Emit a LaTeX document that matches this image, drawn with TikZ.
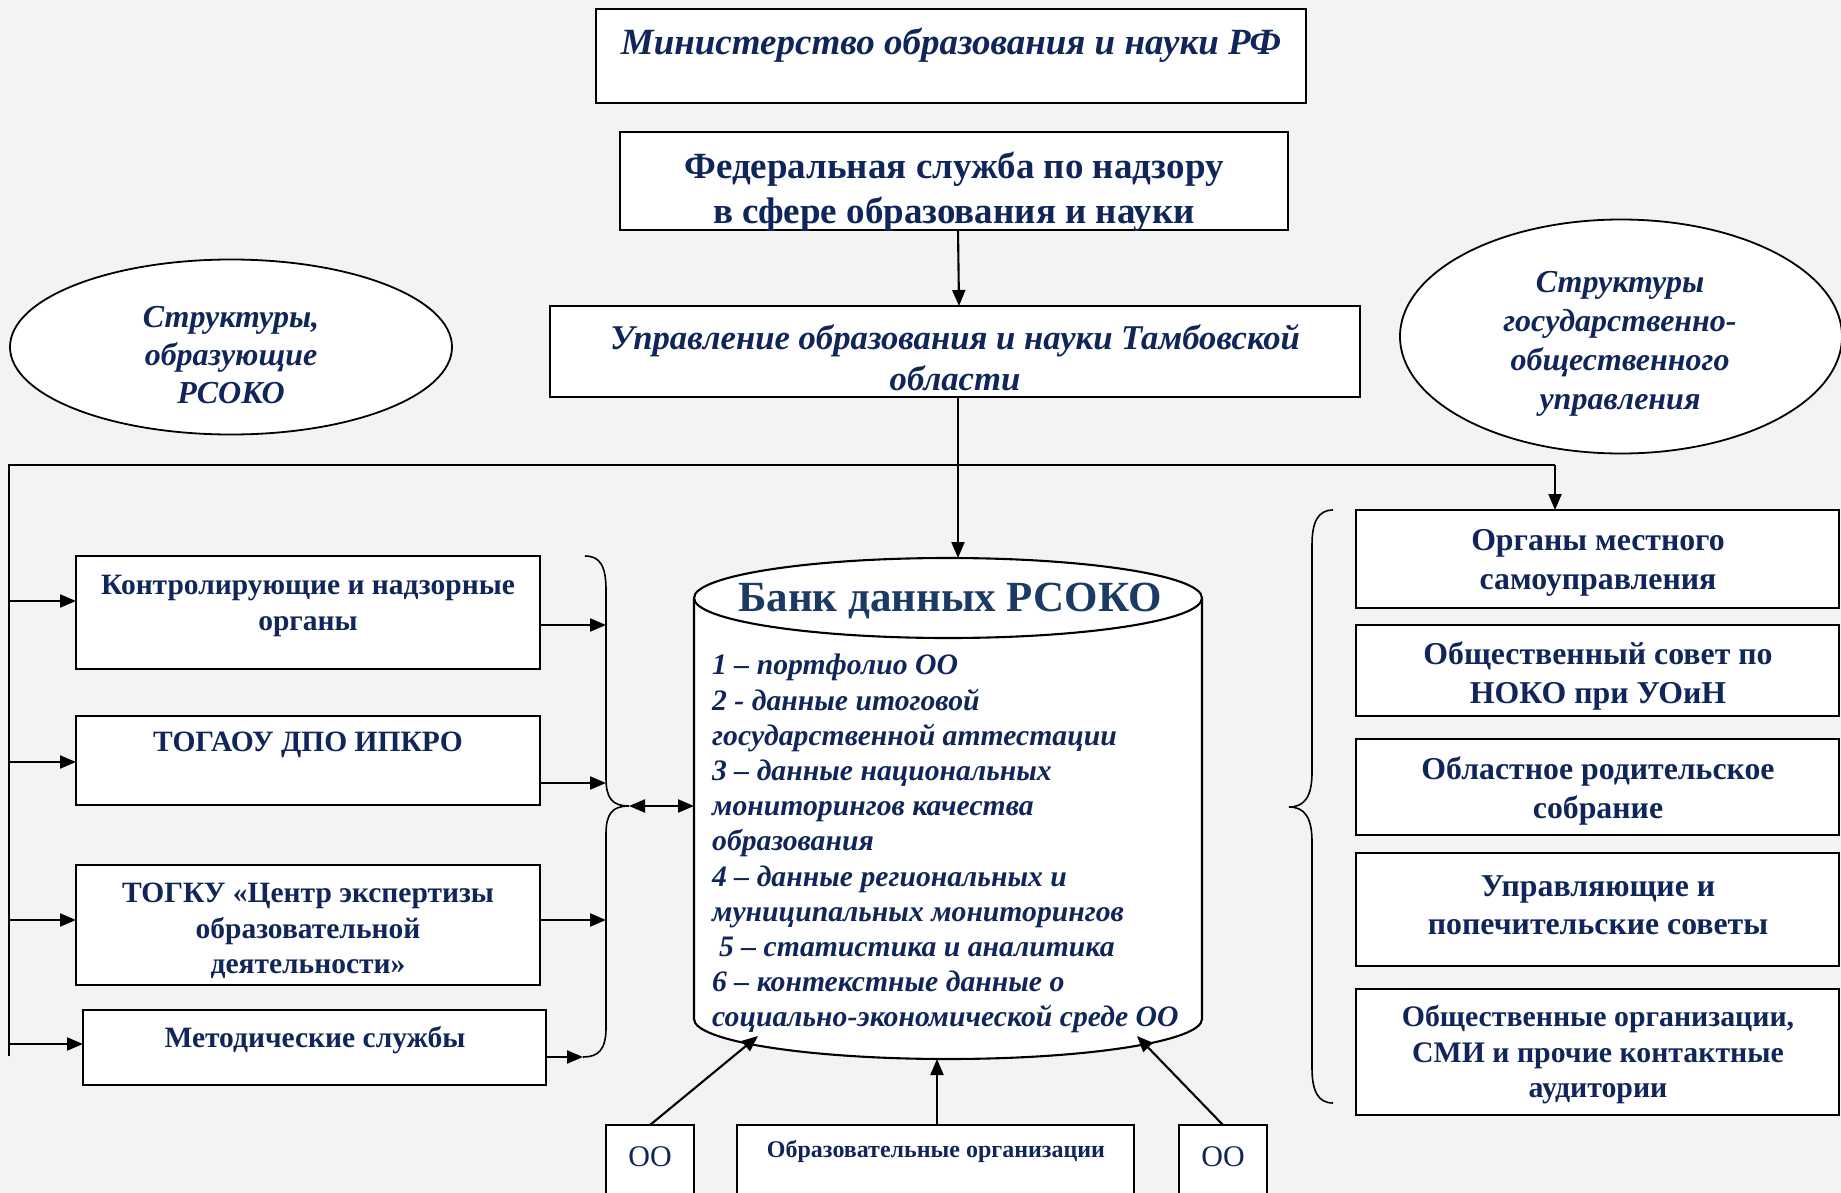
\documentclass[tikz,border=0pt]{standalone}
\usepackage{fontspec}
\setmainfont{Liberation Serif}
\usetikzlibrary{arrows.meta,shapes.geometric,calc}
\definecolor{navy}{HTML}{10265A}
\definecolor{ttl}{HTML}{1B3A64}
\definecolor{bg}{HTML}{F3F3F3}
\begin{document}
\begin{tikzpicture}[x=1pt,y=-1pt,
 box/.style={draw=black, line width=2.1pt, fill=white, inner sep=0pt, outer sep=0pt},
 conn/.style={line width=2.1pt},
 arr/.style={conn, -{Triangle[length=16pt,width=13pt]}},
 darr/.style={conn, {Triangle[length=16pt,width=13pt]}-{Triangle[length=16pt,width=13pt]}},
 tb/.style n args={2}{text=navy, align=center, inner sep=0pt, font={\fontsize{#1}{#2}\selectfont\bfseries}},
 ti/.style n args={2}{text=navy, align=center, inner sep=0pt, font={\fontsize{#1}{#2}\selectfont\bfseries\itshape}},
 oval/.style={draw=black, ellipse, line width=1.8pt, fill=white, inner sep=0pt},
 brace/.style={line width=1.6pt},
]
\fill[bg] (0,0) rectangle (1841,1193);
\useasboundingbox (0,0) rectangle (1841,1193);

% top boxes
\node[box, minimum width=710pt, minimum height=94pt] (min) at (951,56) {};
\node[ti={37}{44}] (mint) at (951,45) {Министерство образования и науки РФ};
\node[box, minimum width=668pt, minimum height=98pt] (fed) at (954,181) {};
\node[tb={37}{44.5}] (fedt) at (954,192) {Федеральная служба по надзору\\в сфере образования и науки};
\node[box, minimum width=810pt, minimum height=91pt] (upr) at (955,351.5) {};
\node[ti={34.7}{41}] (uprt) at (955,358) {Управление образования и науки Тамбовской\\области};

% ellipses
\node[oval, minimum width=442pt, minimum height=175pt] (ell) at (231,347) {};
\node[ti={32}{38}] (ellt) at (231,355) {Структуры,\\образующие\\РСОКО};
\node[oval, minimum width=442pt, minimum height=234pt] (elr) at (1621,336.5) {};
\node[ti={32}{39}] (elrt) at (1620,344) {Структуры\\государственно-\\общественного\\управления};

% left boxes
\node[box, minimum width=464pt, minimum height=113pt] (b1) at (308,612.5) {};
\node[tb={29.5}{36}] (b1t) at (308,606) {Контролирующие и надзорные\\органы};
\node[box, minimum width=464pt, minimum height=89pt] (b2) at (308,760.5) {};
\node[tb={29.5}{36}] (b2t) at (308,745) {ТОГАОУ ДПО ИПКРО};
\node[box, minimum width=464pt, minimum height=120pt] (b3) at (308,925) {};
\node[tb={29.5}{35.5}] (b3t) at (308,931) {ТОГКУ «Центр экспертизы\\образовательной\\деятельности»};
\node[box, minimum width=463pt, minimum height=75pt] (b4) at (314.5,1047.5) {};
\node[tb={29.5}{36}] (b4t) at (315,1040) {Методические службы};

% right boxes
\node[box, minimum width=483pt, minimum height=98pt] (ra) at (1597.5,559) {};
\node[tb={31.8}{38.5}] (rat) at (1598,563) {Органы местного\\самоуправления};
\node[box, minimum width=483pt, minimum height=91pt] (rb) at (1597.5,670.5) {};
\node[tb={31.8}{38.5}] (rbt) at (1598,676) {Общественный совет по\\НОКО при УОиН};
\node[box, minimum width=483pt, minimum height=96pt] (rc) at (1597.5,787) {};
\node[tb={31.8}{38.5}] (rct) at (1598,791) {Областное родительское\\собрание};
\node[box, minimum width=483pt, minimum height=113pt] (rd) at (1597.5,909.5) {};
\node[tb={31.8}{38.5}] (rdt) at (1598,905) {Управляющие и\\попечительские советы};
\node[box, minimum width=483pt, minimum height=126pt] (re) at (1597.5,1052) {};
\node[tb={29.8}{35.5}] (ret) at (1598,1055) {Общественные организации,\\СМИ и прочие контактные\\аудитории};

% bottom boxes
\node[box, minimum width=88pt, minimum height=95pt] (oo1) at (650,1172.5) {};
\node[text=navy, inner sep=0pt, font={\fontsize{30}{34}\selectfont}] (oo1t) at (650,1157) {ОО};
\node[box, minimum width=397pt, minimum height=95pt] (obr) at (935.5,1172.5) {};
\node[tb={24}{28}] (obrt) at (936,1151) {Образовательные организации};
\node[box, minimum width=88pt, minimum height=95pt] (oo2) at (1223,1172.5) {};
\node[text=navy, inner sep=0pt, font={\fontsize{30}{34}\selectfont}] (oo2t) at (1223,1157) {ОО};

% cylinder
\coordinate (bank) at (948,808);
\filldraw[fill=white, draw=black, line width=2.1pt]
  (694,598) -- (694,1019) arc[start angle=180, end angle=360, x radius=254pt, y radius=40pt]
  -- (1202,598) arc[start angle=0, end angle=180, x radius=254pt, y radius=40pt] -- cycle;
\draw[line width=2.1pt] (694,598) arc[start angle=180, end angle=360, x radius=254pt, y radius=40pt];
\node[text=ttl, inner sep=0pt, font={\fontsize{43}{50}\selectfont\bfseries}] (bankt) at (950,601) {Банк данных РСОКО};
\node[text=navy, align=left, anchor=north west, inner sep=0pt, font={\fontsize{29.7}{35.2}\selectfont\bfseries\itshape}] (list) at (712,654)
{1 – портфолио ОО\\
2 - данные итоговой\\
государственной аттестации\\
3 – данные национальных\\
мониторингов качества\\
образования\\
4 – данные региональных и\\
муниципальных мониторингов\\
\hspace*{7pt}5 – статистика и аналитика\\
6 – контекстные данные о\\
социально-экономической среде ОО};

% coordinates
\coordinate (banktop) at (958,558);
\coordinate (jn) at (958,465);
\coordinate (lc) at (9,465);
\coordinate (lb) at (9,1056);
\coordinate (rcn) at (1555,465);
\coordinate (lbx) at (606,806);
\coordinate (lbtip) at (629,806);
\coordinate (lbbot) at (583,1057);
\coordinate (bankleft) at (694,806);
\coordinate (bk1) at (758,1036);
\coordinate (bk2) at (937,1059);
\coordinate (bk3) at (1137,1036);

% connectors
\draw[arr] ([xshift=4pt]fed.south) -- ([xshift=4pt]upr.north);
\draw[arr] ([xshift=3pt]upr.south) -- (banktop);
\draw[conn] (lb) -- (lc) -- (jn) -- (rcn);
\draw[arr] (rcn) -- (rcn |- ra.north);
\draw[arr] ([yshift=11.5pt]b1.west -| lc) -- ([yshift=11.5pt]b1.west);
\draw[arr] ([yshift=-1.5pt]b2.west -| lc) -- ([yshift=-1.5pt]b2.west);
\draw[arr] ([yshift=5pt]b3.west -| lc) -- ([yshift=5pt]b3.west);
\draw[arr] ([yshift=3.5pt]b4.west -| lc) -- ([yshift=3.5pt]b4.west);

\draw[arr] ([yshift=-12.5pt]b1.east) -- ([yshift=-12.5pt]b1.east -| lbx);
\draw[arr] ([yshift=-22.5pt]b2.east) -- ([yshift=-22.5pt]b2.east -| lbx);
\draw[arr] ([yshift=5pt]b3.east) -- ([yshift=5pt]b3.east -| lbx);
\draw[arr] (b4.east |- lbbot) -- (lbbot);
\draw[darr] (lbtip) -- (bankleft);

\draw[arr] (oo1.north) -- (bk1);
\draw[arr] (obr.north -| bk2) -- (bk2);
\draw[arr] (oo2.north) -- (bk3);

% braces
\draw[brace] (585,556) .. controls (600,556) and (606,566) .. (606,590) -- (606,778)
  .. controls (606,798) and (612,806) .. (629,806)
  .. controls (612,806) and (606,814) .. (606,834) -- (606,1028)
  .. controls (606,1050) and (598,1057) .. (583,1057);
\draw[brace] (1333,510) .. controls (1318,510) and (1312,522) .. (1312,545) -- (1312,772)
  .. controls (1312,796) and (1305,807) .. (1289,807)
  .. controls (1305,807) and (1312,818) .. (1312,842) -- (1312,1068)
  .. controls (1312,1091) and (1318,1103) .. (1333,1103);
\end{tikzpicture}
\end{document}
